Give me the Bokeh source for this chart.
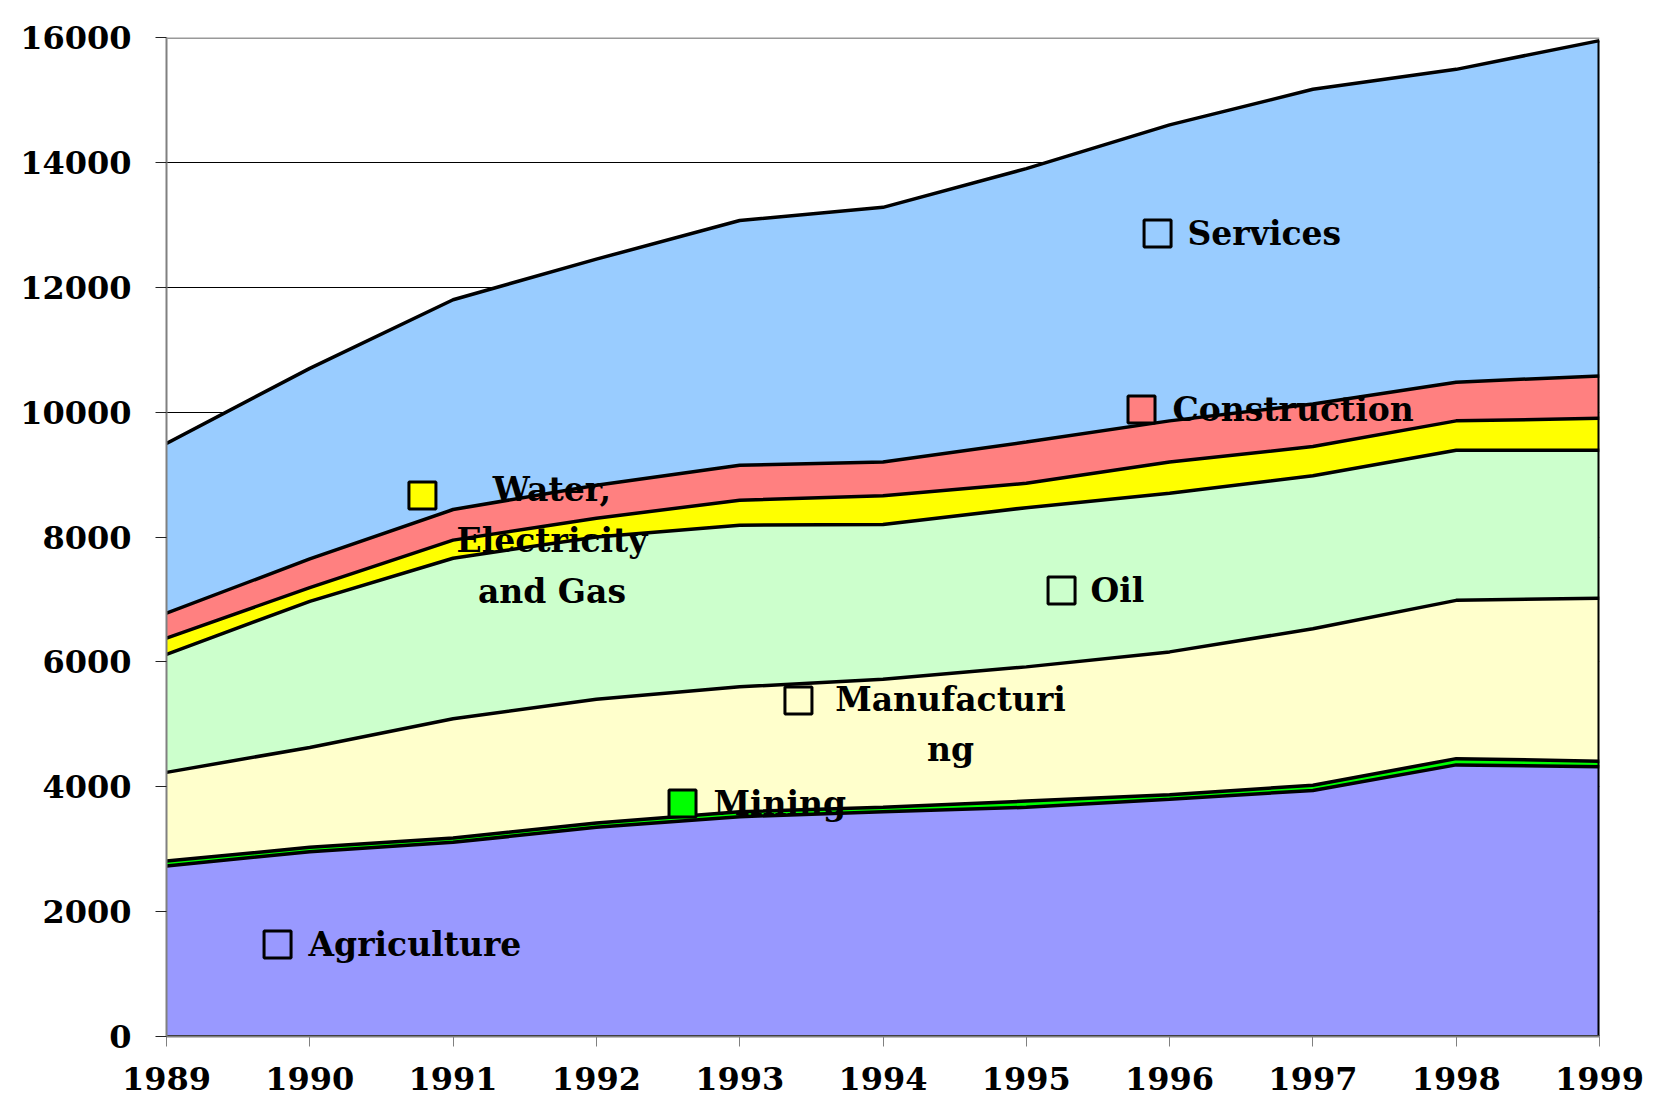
import numpy as np
from bokeh.plotting import figure
from bokeh.models import ColumnDataSource, Span, FixedTicker
from bokeh.core.properties import value
from bokeh.embed import file_html
from bokeh.resources import INLINE

years = [1989, 1990, 1991, 1992, 1993, 1994, 1995, 1996, 1997, 1998, 1999]
agriculture = [2730, 2960, 3110, 3350, 3520, 3600, 3670, 3800, 3940, 4350, 4320]
mining = [80, 70, 70, 70, 80, 70, 100, 70, 85, 100, 90]
manufacturing = [1420, 1600, 1910, 1980, 2000, 2050, 2150, 2290, 2505, 2535, 2610]
oil = [1890, 2340, 2570, 2600, 2590, 2480, 2550, 2540, 2450, 2405, 2370]
water = [260, 220, 290, 300, 400, 460, 390, 500, 470, 470, 510]
construction = [400, 460, 490, 530, 560, 540, 660, 660, 680, 620, 680]
services = [2720, 3050, 3360, 3620, 3920, 4080, 4380, 4740, 5040, 5010, 5370]

names = ["Agriculture", "Mining", "Manufacturing", "Oil", "Water", "Construction", "Services"]
colors = ["#9999FF", "#00FF00", "#FFFFCC", "#CCFFCC", "#FFFF00", "#FF8080", "#99CCFF"]
y_ticks = [0, 2000, 4000, 6000, 8000, 10000, 12000, 14000, 16000]

# label annotations: (text, square x, square y, square fill, text x, text y, align)
labels = [
    ("Services", 1995.916, 12860, None, 1996.125, 12860, "left"),
    ("Construction", 1995.804, 10042, "#FF8080", 1996.02, 10042, "left"),
    ("Water,\nElectricity\nand Gas", 1990.786, 8664, "#FFFF00", 1991.69, 7944, "center"),
    ("Oil", 1995.246, 7143, None, 1995.448, 7143, "left"),
    ("Manufacturi\nng", 1993.410, 5381, None, 1994.471, 4997, "center"),
    ("Mining", 1992.601, 3732, "#00FF00", 1992.817, 3732, "left"),
    ("Agriculture", 1989.775, 1473, None, 1989.991, 1473, "left"),
]

data = dict(year=years, Agriculture=agriculture, Mining=mining, Manufacturing=manufacturing,
            Oil=oil, Water=water, Construction=construction, Services=services)
source = ColumnDataSource(data)

p = figure(frame_width=1433, frame_height=999, x_range=(1989, 1999), y_range=(0, 16000),
           min_border_left=166, min_border_right=47, min_border_top=37, min_border_bottom=68,
           output_backend="svg", toolbar_location=None, background_fill_color="white",
           border_fill_color="white")
p.outline_line_color = None

p.varea_stack(stackers=names, x="year", color=colors, source=source)
p.vline_stack(stackers=names, x="year", source=source, color="black", line_width=3.5)

total = np.sum(np.array([agriculture, mining, manufacturing, oil, water, construction, services]), axis=0)
p.segment(x0=[years[-1]], y0=[0], x1=[years[-1]], y1=[int(total[-1])], line_color="black", line_width=4)
p.line(x=[years[0], years[-1]], y=[0, 0], line_color="black", line_width=3)

p.add_layout(Span(location=16000, dimension="width", line_color="#999999", line_width=3))

# grid
p.xgrid.visible = False
p.ygrid.ticker = FixedTicker(ticks=y_ticks)
p.ygrid.grid_line_color = "black"
p.ygrid.grid_line_width = 1

font = "DejaVu Serif"
for ax in (p.xaxis[0], p.yaxis[0]):
    ax.major_label_text_font = font
    ax.major_label_text_font_style = "bold"
    ax.major_label_text_font_size = "32px"
    ax.major_label_text_color = "black"
    ax.axis_line_color = "#808080"
    ax.axis_line_width = 2
    ax.major_tick_in = 0
    ax.minor_tick_line_color = None

p.xaxis.ticker = FixedTicker(ticks=years)
p.xaxis.major_tick_out = 10
p.xaxis.major_tick_line_color = "#808080"
p.xaxis.major_label_standoff = 20
p.yaxis.ticker = FixedTicker(ticks=y_ticks)
p.yaxis.major_tick_out = 11
p.yaxis.major_tick_line_color = "#222222"
p.yaxis.major_label_standoff = 24

for txt, sx, sy, fill, tx, ty, align in labels:
    p.scatter(x=[sx], y=[sy], marker="square", size=27, fill_color=fill,
              fill_alpha=1.0 if fill else 0.0, line_color="black", line_width=3)
    p.text(x=[tx], y=[ty], text=[txt], text_font=value(font), text_font_style="bold",
           text_font_size="33px", text_align=align, text_baseline="middle",
           text_color="black", text_line_height=1.3)

open("out.html", "w").write(file_html(p, INLINE))
